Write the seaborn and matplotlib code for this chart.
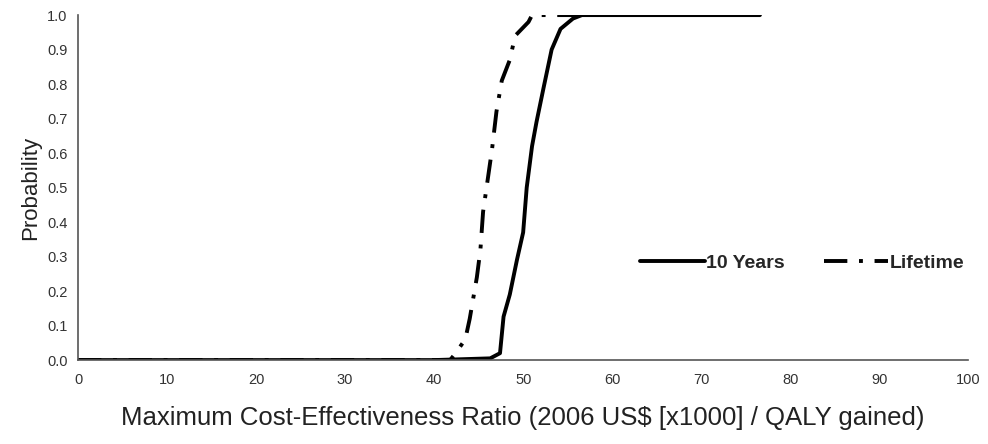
import pandas as pd
import matplotlib
matplotlib.use("Agg")
import matplotlib.pyplot as plt
import seaborn as sns

# Cumulative acceptability curves
years10_x = [0, 20, 40, 46.3, 47.4, 47.8, 48.5, 49.3, 50.0, 50.4, 51.0, 51.5, 52.3, 53.2, 54.2, 55.6, 56.6, 76.6]
years10_y = [0.0, 0.0, 0.0, 0.005, 0.02, 0.126, 0.19, 0.29, 0.37, 0.50, 0.62, 0.69, 0.79, 0.90, 0.96, 0.99, 1.0, 1.0]
lifetime_x = [0, 20, 41.8, 42.4, 43.5, 44.0, 44.8, 45.2, 45.5, 46.0, 46.5, 47.0, 47.6, 48.5, 49.1, 50.6, 51.0, 56.6]
lifetime_y = [0.0, 0.0, 0.0, 0.02, 0.06, 0.12, 0.24, 0.32, 0.43, 0.52, 0.61, 0.72, 0.81, 0.87, 0.94, 0.98, 1.0, 1.0]
series = ["10 Years", "Lifetime"]

df = pd.concat([
    pd.DataFrame({"x": years10_x, "y": years10_y, "Series": series[0]}),
    pd.DataFrame({"x": lifetime_x, "y": lifetime_y, "Series": series[1]}),
])

sns.set_style("white")
plt.rcParams["font.family"] = ["Liberation Sans", "DejaVu Sans"]

fig = plt.figure(figsize=(9.88, 4.44), dpi=100)
ax = fig.add_axes([0.079, 0.189, 0.901, 0.777])

sns.lineplot(data=df, x="x", y="y", style="Series", estimator=None, sort=False,
             color="black", linewidth=2.8,
             dashes={"10 Years": "", "Lifetime": (6, 3, 1, 3)}, ax=ax)

ax.set_xlim(0, 100)
ax.set_ylim(0, 1.0)
ax.set_xticks(range(0, 101, 10))
ax.set_yticks([i / 10 for i in range(11)])
ax.set_yticklabels([f"{i / 10:.1f}" for i in range(11)])
ax.tick_params(axis="both", direction="out", length=4, width=1, colors="#444444",
               labelsize=10.5, labelcolor="#333333")
ax.tick_params(axis="x", pad=5)
sns.despine(ax=ax)
for s in ["left", "bottom"]:
    ax.spines[s].set_color("#555555")
    ax.spines[s].set_linewidth(1.2)

ax.set_xlabel("Maximum Cost-Effectiveness Ratio (2006 US$ [x1000] / QALY gained)",
              fontsize=18.5, color="#222222", labelpad=14)
ax.set_ylabel("Probability", fontsize=16, color="#222222", labelpad=4)

leg = ax.legend(title=None, frameon=False, ncol=2, loc="center left",
                bbox_to_anchor=(0.612, 0.28), handlelength=3.3, columnspacing=2.0,
                handletextpad=0.1, prop={"weight": "bold", "size": 14})

fig.savefig("out.png", dpi=100)
